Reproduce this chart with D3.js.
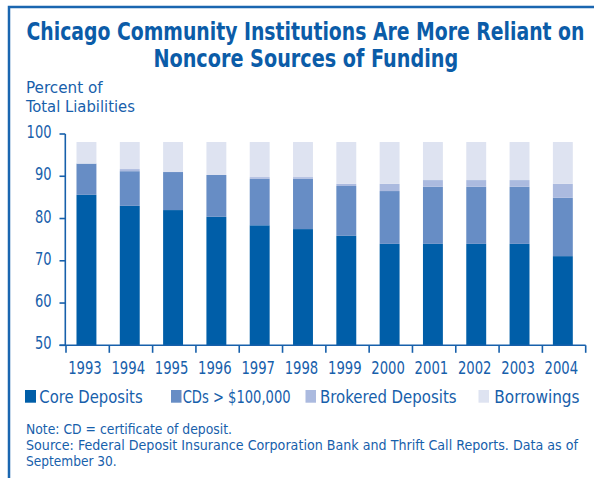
<!DOCTYPE html>
<html>
<head>
<meta charset="utf-8">
<script src="https://cdn.jsdelivr.net/npm/d3@7"></script>
<style>
  html, body { margin: 0; padding: 0; background: #fff; }
  svg { display: block; }
  text { font-family: "Liberation Sans Narrow", "DejaVu Sans Condensed", "Liberation Sans", sans-serif; fill: #1760ab; }
</style>
</head>
<body>
<script>
// ---- data ----
const years = ["1993","1994","1995","1996","1997","1998","1999","2000","2001","2002","2003","2004"];
const coreDeposits = [85.6, 83.0, 82.0, 80.4, 78.4, 77.5, 75.9, 74.0, 74.0, 74.0, 74.0, 71.1];
const cdsOver100k  = [7.4, 8.2, 9.0, 9.9, 11.0, 11.9, 11.8, 12.5, 13.5, 13.5, 13.5, 13.8];
const brokered     = [0.0, 0.5, 0.0, 0.0, 0.4, 0.4, 0.5, 1.7, 1.6, 1.6, 1.6, 3.3];
const borrowings   = [5.1, 6.4, 7.1, 7.8, 8.3, 8.3, 9.9, 9.9, 9.0, 9.0, 9.0, 9.9];
const seriesNames  = ["Core Deposits", "CDs > $100,000", "Brokered Deposits", "Borrowings"];
const seriesKeys   = ["core", "cds", "brokered", "borrowings"];
const yTicks       = [50, 60, 70, 80, 90, 100];
const titleLines   = ["Chicago Community Institutions Are More Reliant on", "Noncore Sources of Funding"];
const yAxisTitle   = ["Percent of", "Total Liabilities"];
const notes        = ["Note: CD = certificate of deposit.",
                      "Source: Federal Deposit Insurance Corporation Bank and Thrift Call Reports. Data as of",
                      "September 30."];

const colors = ["#005ea8", "#678dc5", "#abbadf", "#dee3f1"];
const ink = "#1760ab";

const W = 594, H = 478;
const svg = d3.select("body").append("svg").attr("width", W).attr("height", H);

// place a text at (x, y) (left-aligned) and scale it horizontally to a target width
function fitText(parent, str, x, y, width, size, weight) {
  const t = parent.append("text").attr("x", 0).attr("y", 0)
    .attr("font-size", size).attr("font-weight", weight || "normal").text(str);
  const natural = t.node().getComputedTextLength();
  const sx = width / natural;
  t.attr("transform", `translate(${x},${y}) scale(${sx},1)`);
  return t;
}

// frame
svg.append("rect").attr("x", 9).attr("y", 7).attr("width", 620).attr("height", 500)
  .attr("fill", "none").attr("stroke", "#1a66b0").attr("stroke-width", 2.5);

// title
const titleSpecs = [{x: 26.5, y: 39.5, w: 558.5}, {x: 153.4, y: 67, w: 305}];
titleLines.forEach((t, i) => {
  fitText(svg, t, titleSpecs[i].x, titleSpecs[i].y, titleSpecs[i].w, 24.5, "bold").style("fill", "#0b5ca8");
});

// y axis title
const yTitleSpecs = [{y: 93, w: 76.7}, {y: 111.7, w: 109}];
yAxisTitle.forEach((t, i) => {
  fitText(svg, t, 26, yTitleSpecs[i].y, yTitleSpecs[i].w, 16);
});

// scales
const x = d3.scaleBand().domain(years).range([64.8, 584.5]).paddingInner(0.54).paddingOuter(0.27);
const y = d3.scaleLinear().domain([50, 100]).range([345.3, 134]);

// stacked data
const rows = years.map((yr, i) => ({year: yr, core: coreDeposits[i], cds: cdsOver100k[i], brokered: brokered[i], borrowings: borrowings[i]}));
const layers = d3.stack().keys(seriesKeys)(rows);

const g = svg.append("g");
layers.forEach((layer, li) => {
  g.selectAll(null).data(layer).enter().append("rect")
    .attr("x", d => x(d.data.year))
    .attr("width", x.bandwidth())
    .attr("y", d => y(d[1]))
    .attr("height", d => Math.max(0, y(Math.max(50, d[0])) - y(d[1])))
    .attr("fill", colors[li]);
});

// y axis
const yAxisX = 65.3;
svg.append("line").attr("x1", yAxisX).attr("x2", yAxisX).attr("y1", y(100)).attr("y2", y(50))
  .attr("stroke", ink).attr("stroke-width", 1.6);
yTicks.forEach(v => {
  svg.append("line").attr("x1", 59.5).attr("x2", yAxisX).attr("y1", y(v)).attr("y2", y(v))
    .attr("stroke", ink).attr("stroke-width", 1.6);
  const label = String(v);
  const w = label.length * 8.3;
  fitText(svg, label, 51.5 - w, y(v) + 4, w, 18);
});

// x axis
const step = x.step();
const boundaries = years.map(yr => x(yr) + x.bandwidth() / 2 - step / 2 + 1.2);
boundaries.push(x(years[years.length - 1]) + x.bandwidth() / 2 + step / 2 + 1.2);
svg.append("line").attr("x1", 59.5).attr("x2", boundaries[boundaries.length - 1]).attr("y1", y(50)).attr("y2", y(50))
  .attr("stroke", ink).attr("stroke-width", 1.6);
boundaries.forEach(bx => {
  svg.append("line").attr("x1", bx).attr("x2", bx).attr("y1", y(50)).attr("y2", y(50) + 7.5)
    .attr("stroke", ink).attr("stroke-width", 1.6);
});
years.forEach(yr => {
  const cx = x(yr) + x.bandwidth() / 2 - 1.5;
  fitText(svg, yr, cx - 16.8, 374, 33.6, 18);
});

// legend
const legSpecs = [
  {sx: 25, sw: 11, tx: 39.3, tw: 103.4},
  {sx: 171, sw: 10.5, tx: 182.7, tw: 108},
  {sx: 305.5, sw: 10.5, tx: 320, tw: 136.6},
  {sx: 478.5, sw: 10.5, tx: 494.3, tw: 85.3}
];
seriesNames.forEach((name, i) => {
  const s = legSpecs[i];
  svg.append("rect").attr("x", s.sx).attr("y", 390).attr("width", s.sw).attr("height", 12.7).attr("fill", colors[i]);
  fitText(svg, name, s.tx, 403.3, s.tw, 18);
});

// notes
const noteSpecs = [{y: 433.5, w: 206}, {y: 449.5, w: 552}, {y: 465.5, w: 90.7}];
notes.forEach((t, i) => {
  fitText(svg, t, 26, noteSpecs[i].y, noteSpecs[i].w, 13.6);
});
</script>
</body>
</html>
